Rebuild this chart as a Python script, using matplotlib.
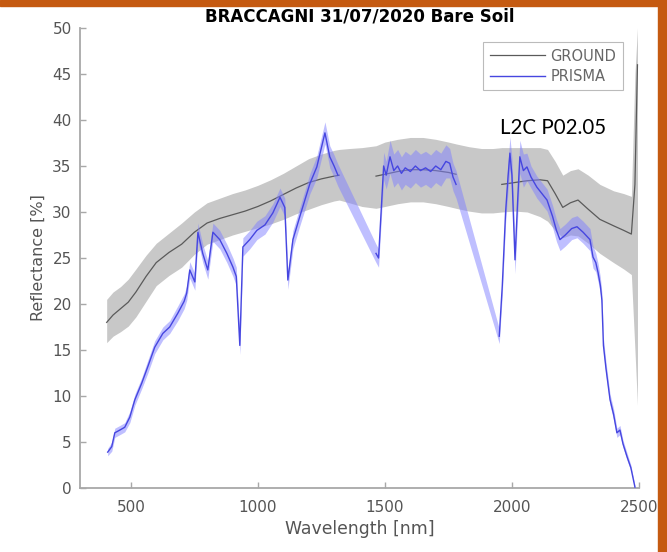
import numpy as np
import matplotlib
matplotlib.use("Agg")
import matplotlib.pyplot as plt
from matplotlib.patches import Rectangle

# ground measurements: wavelength, mean, lower/upper envelope (nan = mean not shown)
ground_wl = [405, 430, 460, 490, 520, 560, 600, 650, 700, 750, 800, 850, 900, 950,
             1000, 1050, 1100, 1150, 1200, 1250, 1300, 1320, 1360, 1410, 1465, 1500,
             1550, 1600, 1650, 1700, 1750, 1780, 1830, 1880, 1925, 1960, 2010, 2060,
             2110, 2140, 2170, 2200, 2230, 2260, 2300, 2346, 2400, 2440, 2470, 2484, 2494]
ground_mean = [18.0, 18.8, 19.5, 20.2, 21.3, 23.0, 24.5, 25.6, 26.5, 27.8, 28.8, 29.3, 29.7, 30.1,
               30.6, 31.2, 31.9, 32.6, 33.2, 33.6, 33.9, 34.0, np.nan, np.nan, 33.9, 34.1,
               34.4, 34.6, 34.6, 34.5, 34.3, 34.1, np.nan, np.nan, np.nan, 33.0, 33.2, 33.4,
               33.5, 33.4, 32.0, 30.5, 31.0, 31.3, 30.3, 29.2, 28.5, 28.0, 27.6, 33.0, 46.0]
ground_lo = [15.8, 16.5, 17.0, 17.6, 18.6, 20.3, 22.0, 23.1, 24.0, 25.4, 26.5, 27.0, 27.5, 27.9,
             28.3, 28.7, 29.2, 29.8, 30.3, 30.8, 31.2, 31.3, 31.0, 30.6, 30.4, 30.6,
             30.9, 31.1, 31.1, 30.9, 30.6, 30.4, 30.1, 29.9, 29.9, 30.0, 30.1, 30.0,
             29.5, 29.0, 28.0, 27.2, 27.5, 27.4, 26.6, 25.5, 24.5, 23.8, 23.2, 15.0, 9.0]
ground_hi = [20.5, 21.3, 21.9, 22.7, 23.8, 25.3, 26.6, 27.7, 28.8, 30.0, 31.0, 31.5, 32.0, 32.4,
             32.9, 33.5, 34.2, 35.0, 35.8, 36.3, 36.7, 36.8, 36.9, 37.0, 37.2, 37.6,
             37.9, 38.1, 38.1, 37.9, 37.6, 37.4, 37.1, 36.9, 36.9, 37.0, 37.0, 37.0,
             37.0, 36.8, 35.5, 34.0, 34.5, 34.7, 34.0, 33.0, 32.3, 32.0, 31.7, 45.0, 50.0]

# PRISMA spectrum: wavelength, reflectance, std (nan = water-vapour gap)
prisma_wl = [409, 425, 437, 457, 476, 496, 516, 543, 567, 594, 626, 653, 685, 710, 720,
             732, 752, 764, 783, 803, 823, 850, 878, 902, 915, 929, 941, 968, 996, 1028,
             1059, 1087, 1106, 1118, 1138, 1165, 1205, 1232, 1264, 1283, 1300, 1315,
             1390,
             1465, 1475, 1485, 1495, 1505, 1520, 1535, 1550, 1565, 1580, 1600, 1620, 1640,
             1660, 1680, 1700, 1720, 1740, 1755, 1768, 1780,
             1865,
             1950, 1962, 1975, 1985, 1992, 2000, 2012, 2022, 2031, 2045, 2059, 2075, 2098,
             2118, 2138, 2160, 2175, 2189, 2210, 2235, 2256, 2280, 2307, 2319, 2330, 2339,
             2348, 2354, 2360, 2370, 2386, 2400, 2413, 2425, 2437, 2453, 2468, 2484]
prisma_val = [3.9, 4.5, 6.0, 6.3, 6.6, 7.7, 9.6, 11.4, 13.2, 15.3, 16.8, 17.5, 19.0, 20.3, 21.2,
              23.7, 22.4, 27.8, 25.5, 23.7, 27.8, 27.0, 25.5, 24.0, 23.0, 15.5, 26.2, 27.0, 28.0, 28.6,
              29.9, 31.6, 30.5, 22.6, 27.0, 29.5, 33.1, 34.9, 38.6, 36.0, 35.0, 34.0,
              np.nan,
              25.5, 25.0, 30.0, 35.0, 34.0, 36.0, 34.5, 35.0, 34.2, 34.8, 34.4, 35.0, 34.5,
              34.8, 34.4, 35.0, 34.6, 35.5, 35.3, 33.8, 33.0,
              np.nan,
              16.5, 22.0, 30.0, 34.0, 36.4, 34.0, 24.8, 31.0, 36.0, 34.5, 34.9, 33.8, 32.7,
              32.0, 31.3, 29.5, 28.0, 27.0, 27.5, 28.2, 28.4, 27.8, 27.0, 25.1, 24.5, 23.4,
              22.0, 20.4, 15.5, 13.0, 9.6, 8.0, 6.0, 6.3, 4.8, 3.4, 2.2, 0.1]
prisma_std = [0.4, 0.5, 0.5, 0.5, 0.5, 0.6, 0.6, 0.6, 0.7, 0.7, 0.7, 0.7, 0.8, 0.8, 0.8,
              0.9, 0.9, 1.0, 1.0, 1.0, 1.0, 1.0, 1.0, 1.0, 1.0, 1.0, 1.0, 1.0, 1.0, 1.0,
              1.0, 1.0, 1.0, 1.0, 1.0, 1.0, 1.1, 1.2, 1.2, 1.2, 1.2, 1.2,
              np.nan,
              1.0, 1.0, 1.2, 1.5, 1.5, 1.8, 1.8, 1.8, 1.8, 1.8, 1.8, 1.8, 1.8,
              1.8, 1.8, 1.8, 1.8, 1.8, 1.6, 1.5, 1.5,
              np.nan,
              0.8, 1.0, 1.2, 1.5, 1.8, 1.8, 1.5, 1.8, 1.8, 1.8, 1.5, 1.2, 1.2,
              1.2, 1.2, 1.2, 1.2, 1.2, 1.2, 1.2, 1.2, 1.2, 1.2, 1.2, 1.0, 1.0,
              0.9, 0.8, 0.8, 0.7, 0.6, 0.6, 0.5, 0.5, 0.4, 0.4, 0.3, 0.2]

xticks = [500, 1000, 1500, 2000, 2500]
yticks = [0, 5, 10, 15, 20, 25, 30, 35, 40, 45, 50]

W, H = 667, 552
fig = plt.figure(figsize=(W / 100, H / 100), dpi=100)
ax = fig.add_axes([80 / W, 1 - 488 / H, 559 / W, 460 / H])

gwl = np.array(ground_wl, float)
pwl = np.array(prisma_wl, float)
pval = np.array(prisma_val, float)
pstd = np.array(prisma_std, float)

# ground envelope + mean
ax.fill_between(gwl, ground_lo, ground_hi, color="#c8c8c8", lw=0, zorder=1)
ax.plot(gwl, ground_mean, color="#5a5a5a", lw=0.9, zorder=2, label="GROUND")

# prisma envelope (bridges the gaps) + line
ok = ~np.isnan(pval)
ax.fill_between(pwl[ok], pval[ok] - pstd[ok], pval[ok] + pstd[ok],
                color="#8080ff", alpha=0.5, lw=0, zorder=3)
ax.plot(pwl, pval, color="#4646e0", lw=1.0, zorder=4, label="PRISMA")

ax.set_xlim(300, 2500)
ax.set_ylim(0, 50)
ax.set_xticks(xticks)
ax.set_yticks(yticks)

gray = "#555555"
for side in ("top", "right"):
    ax.spines[side].set_visible(False)
for side in ("left", "bottom"):
    ax.spines[side].set_color("#a8a8a8")
    ax.spines[side].set_linewidth(1.3)
ax.tick_params(direction="in", length=4, width=1, color="#a8a8a8",
               labelcolor=gray, labelsize=11)
ax.tick_params(axis="x", pad=9)
ax.tick_params(axis="y", pad=6)

ax.set_xlabel("Wavelength [nm]", color=gray, fontsize=12.4, labelpad=3)
ax.set_ylabel("Reflectance [%]", color=gray, fontsize=11.5, labelpad=5)
ax.set_title("BRACCAGNI 31/07/2020 Bare Soil", fontsize=12, fontweight="bold", pad=5)

leg = ax.legend(loc="upper right", bbox_to_anchor=(623 / W, 1 - 42 / H),
                bbox_transform=fig.transFigure, borderaxespad=0, fontsize=10.5,
                handlelength=3.8, handletextpad=0.35, frameon=True, fancybox=False,
                borderpad=0.45, labelspacing=0.35)
leg.get_frame().set_edgecolor("#aaaaaa")
leg.get_frame().set_linewidth(0.8)
for t in leg.get_texts():
    t.set_color("#666666")

fig.text(500 / W, 1 - 128 / H, "L2C P02.05", fontsize=14.8, family=["Lato", "DejaVu Sans"],
         ha="left", va="center", color="black")

# orange slide frame (top and right)
orange = "#c55a11"
fig.patches.append(Rectangle((0, 1 - 6 / H), 1, 6 / H, transform=fig.transFigure,
                             color=orange, zorder=10))
fig.patches.append(Rectangle((658 / W, 0), 9 / W, 1, transform=fig.transFigure,
                             color=orange, zorder=10))

fig.savefig("out.png", dpi=100)
